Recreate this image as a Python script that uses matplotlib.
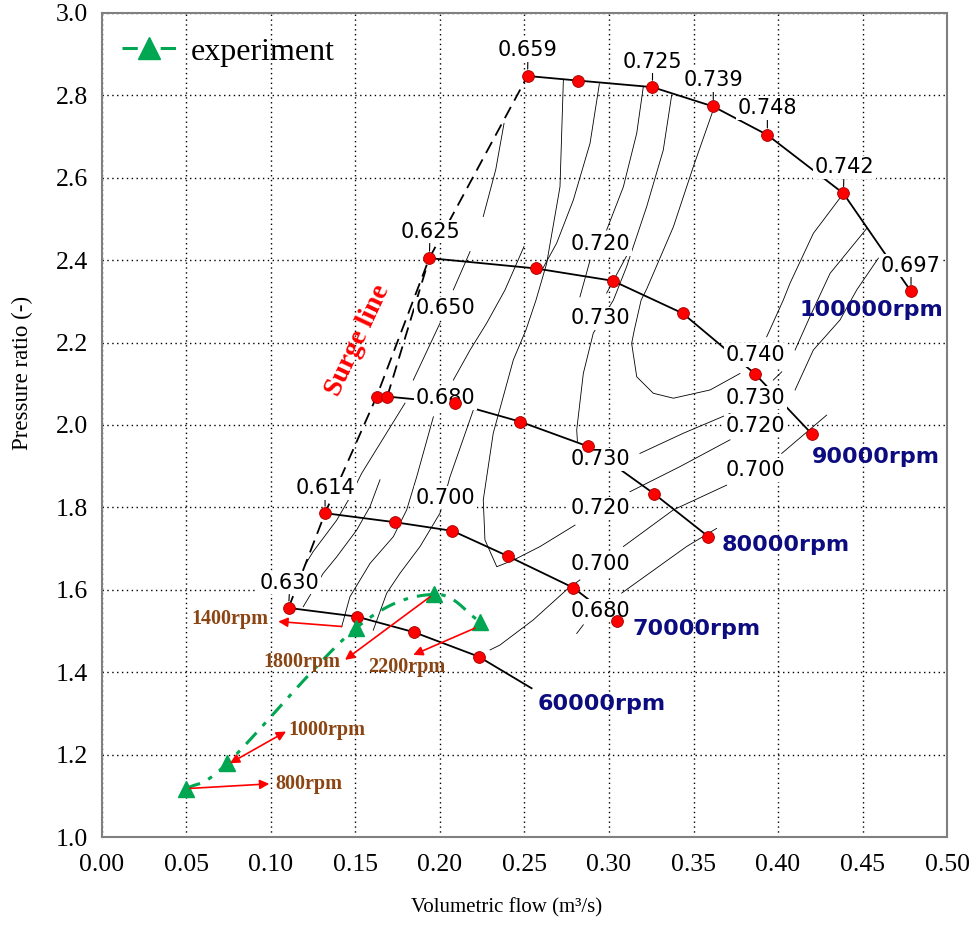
import numpy as np
import matplotlib
matplotlib.use("Agg")
import matplotlib.pyplot as plt
from matplotlib.lines import Line2D

# ---------------- speed lines: volumetric flow (m3/s) vs pressure ratio ----------------
q_100k = [0.2518, 0.2815, 0.3257, 0.3617, 0.3937, 0.4387, 0.4787]
pr_100k = [2.847, 2.836, 2.820, 2.773, 2.704, 2.562, 2.324]
q_90k = [0.1937, 0.2566, 0.3022, 0.3436, 0.3864, 0.4203]
pr_90k = [2.405, 2.380, 2.350, 2.271, 2.124, 1.977]
q_80k = [0.1625, 0.1688, 0.2087, 0.2475, 0.2876, 0.3267, 0.3588]
pr_80k = [2.069, 2.069, 2.053, 2.008, 1.948, 1.833, 1.729]
q_70k = [0.1320, 0.1734, 0.2074, 0.2400, 0.2789, 0.3045]
pr_70k = [1.786, 1.764, 1.743, 1.682, 1.605, 1.524]
q_60k = [0.1104, 0.1507, 0.1847, 0.2228, 0.2542]
pr_60k = [1.556, 1.535, 1.497, 1.438, 1.361]
n_pts_60k = 4  # measured points on the 60000 rpm line (last vertex is line end)

speed_names = ["100000rpm", "90000rpm", "80000rpm", "70000rpm", "60000rpm"]
speed_name_q = [0.4130, 0.4199, 0.3667, 0.3140, 0.2576]
speed_name_pr = [2.279, 1.923, 1.709, 1.505, 1.323]

# efficiency values written next to individual operating points
pt_eff_text = ["0.659", "0.725", "0.739", "0.748", "0.742", "0.697", "0.625", "0.614", "0.630"]
pt_eff_q = [0.2518, 0.3257, 0.3617, 0.3937, 0.4387, 0.4787, 0.1937, 0.1320, 0.1104]
pt_eff_pr = [2.847, 2.820, 2.773, 2.704, 2.562, 2.324, 2.405, 1.786, 1.556]
pt_eff_text_q = [0.2521, 0.3258, 0.3617, 0.3937, 0.4391, 0.4787, 0.1941, 0.1320, 0.1112]
pt_eff_text_pr = [2.910, 2.882, 2.837, 2.769, 2.625, 2.387, 2.469, 1.846, 1.617]

# surge line (through the left-most point of each speed line)
surge_q = [0.1104, 0.1320, 0.1625, 0.1937, 0.2518]
surge_pr = [1.556, 1.786, 2.069, 2.405, 2.847]
surge_b_q = [0.1688, 0.1937]
surge_b_pr = [2.069, 2.405]

# ---------------- iso-efficiency lines (flow, pressure ratio) ----------------
eff_a = [(0.2379, 2.732), (0.2330, 2.620), (0.2256, 2.506)]
eff_b = [(0.2178, 2.421), (0.2079, 2.328)]
eff_720 = [(0.2730, 2.837), (0.2710, 2.578), (0.2631, 2.392), (0.2568, 2.303),
           (0.2509, 2.231), (0.2434, 2.158), (0.2315, 1.980), (0.2256, 1.818),
           (0.2266, 1.721), (0.2336, 1.656), (0.2434, 1.672), (0.2592, 1.705),
           (0.2799, 1.757)]
eff_720_r = [(0.3124, 1.838), (0.3420, 1.899), (0.3716, 1.964)]
eff_c = [(0.2943, 2.828), (0.2888, 2.684), (0.2789, 2.546), (0.2690, 2.441), (0.2592, 2.368)]
eff_d = [(0.2828, 2.311), (0.2888, 2.400)]
eff_e = [(0.3203, 2.821), (0.3164, 2.708), (0.3085, 2.578), (0.2986, 2.473)]
eff_f = [(0.3134, 2.433), (0.2986, 2.320)]
eff_730 = [(0.3371, 2.801), (0.3321, 2.667), (0.3223, 2.530), (0.3104, 2.384),
           (0.3026, 2.303), (0.2907, 2.223), (0.2848, 2.125), (0.2809, 1.988),
           (0.2813, 1.960)]
eff_730_r = [(0.3183, 1.931), (0.3440, 1.980), (0.3716, 2.028)]
eff_740 = [(0.3617, 2.765), (0.3499, 2.627), (0.3381, 2.481), (0.3223, 2.330),
           (0.3190, 2.303), (0.3150, 2.231), (0.3134, 2.198), (0.3164, 2.117),
           (0.3262, 2.077), (0.3381, 2.065), (0.3598, 2.085), (0.3775, 2.125)]
eff_740_r = [(0.4387, 2.562), (0.4209, 2.465), (0.4071, 2.344), (0.4031, 2.303), (0.3933, 2.214)]
eff_g = [(0.4525, 2.477), (0.4308, 2.368), (0.4189, 2.263), (0.4101, 2.182)]
eff_h = [(0.4022, 2.129), (0.3972, 2.109)]
eff_i = [(0.4594, 2.405), (0.4466, 2.328), (0.4367, 2.255), (0.4209, 2.182), (0.4101, 2.085)]
eff_j = [(0.4022, 1.931), (0.4288, 2.024)]
eff_700 = [(0.3085, 1.705), (0.3381, 1.794), (0.3696, 1.854)]
eff_680 = [(0.3075, 1.592), (0.3459, 1.705), (0.3637, 1.749)]
eff_700_low = [(0.2296, 1.454), (0.2355, 1.466), (0.2552, 1.527), (0.2749, 1.600), (0.2828, 1.624)]
eff_680_low = [(0.2848, 1.515), (0.2809, 1.494)]
eff_k = [(0.1793, 2.053), (0.1537, 1.883), (0.1458, 1.818), (0.1389, 1.769), (0.1250, 1.693), (0.1201, 1.660)]
eff_l = [(0.1961, 2.020), (0.1862, 1.874), (0.1803, 1.794), (0.1724, 1.729), (0.1586, 1.664),
         (0.1467, 1.583), (0.1418, 1.510)]
eff_m = [(0.2197, 2.036), (0.2059, 1.874), (0.2000, 1.786), (0.1882, 1.705), (0.1763, 1.640),
         (0.1685, 1.592), (0.1605, 1.502)]
eff_n = [(0.1645, 1.867), (0.1586, 1.802), (0.1507, 1.745), (0.1389, 1.680), (0.1309, 1.640),
         (0.1191, 1.559)]
eff_o = [(0.2000, 2.247), (0.1842, 2.109)]
eff_p = [(0.2497, 2.433), (0.2385, 2.328), (0.2276, 2.247), (0.2178, 2.182), (0.2079, 2.109)]

eff_lines = [eff_a, eff_b, eff_720, eff_720_r, eff_c, eff_d, eff_e, eff_f, eff_730, eff_730_r,
             eff_740, eff_740_r, eff_g, eff_h, eff_i, eff_j, eff_700, eff_680, eff_700_low,
             eff_680_low, eff_k, eff_l, eff_m, eff_n, eff_o, eff_p]

eff_text = ["0.720", "0.730", "0.650", "0.680", "0.740", "0.730", "0.720", "0.730",
            "0.700", "0.720", "0.700", "0.700", "0.680"]
eff_text_q = [0.2951, 0.2951, 0.2030, 0.2030, 0.3864, 0.3864, 0.3864, 0.2951,
              0.3864, 0.2951, 0.2030, 0.2947, 0.2947]
eff_text_pr = [2.439, 2.259, 2.283, 2.065, 2.170, 2.066, 1.998, 1.917,
               1.891, 1.798, 1.824, 1.663, 1.549]

# ---------------- experiment ----------------
exp_q = [0.0497, 0.0742, 0.1503, 0.1966, 0.2237]
exp_pr = [1.116, 1.179, 1.507, 1.589, 1.523]
exp_rpm = ["800rpm", "1000rpm", "1400rpm", "1800rpm", "2200rpm"]
arrow_tail = [(0.0521, 1.118), (0.0757, 1.179), (0.1418, 1.511), (0.1941, 1.583), (0.2207, 1.507)]
arrow_head = [(0.0990, 1.129), (0.1089, 1.256), (0.1043, 1.523), (0.1438, 1.430), (0.1842, 1.442)]
arrow_both = [False, True, False, False, False]
rpm_text_pos = [(0.1024, 1.129), (0.1101, 1.260), (0.0982, 1.529), (0.1408, 1.425), (0.1574, 1.413)]
rpm_text_ha = ["left", "left", "right", "right", "left"]

# ---------------- figure ----------------
SERIF = ["Liberation Serif", "DejaVu Serif"]
SANS = ["DejaVu Sans"]
GREEN = "#00a651"
BROWN = "#8b4513"
NAVY = "#0c0c80"

fig = plt.figure(figsize=(9.73, 9.26), dpi=100)
ax = fig.add_axes([0.1048, 0.0961, 0.8685, 0.8899])
ax.set_xlim(0, 0.5)
ax.set_ylim(1.0, 3.0)
xt = np.round(np.arange(0, 0.501, 0.05), 2)
yt = np.round(np.arange(1.0, 3.001, 0.2), 1)
ax.set_xticks(xt)
ax.set_xticklabels([f"{v:.2f}" for v in xt], fontfamily=SERIF, fontsize=18.5)
ax.set_yticks(yt)
ax.set_yticklabels([f"{v:.1f}" for v in yt], fontfamily=SERIF, fontsize=18.5)
ax.tick_params(axis="x", length=0, pad=12)
ax.tick_params(axis="y", length=0, pad=10)
ax.grid(True, color="black", linestyle=(0, (1, 2.5)), linewidth=1.0)
ax.set_axisbelow(True)
for s in ax.spines.values():
    s.set_color("#808080")
    s.set_linewidth(1.5)

fig.text(0.521, 0.0194, "Volumetric flow (m\u00b3/s)", ha="center", va="center",
         fontfamily=SERIF, fontsize=15)
fig.text(0.0226, 0.597, "Pressure ratio (-)", ha="center", va="center", rotation=90,
         fontfamily=SERIF, fontsize=16.5)

# iso-efficiency lines
for line in eff_lines:
    xs, ys = zip(*line)
    ax.plot(xs, ys, color="black", linewidth=0.6, zorder=2)

# surge line
ax.plot(surge_q, surge_pr, color="black", linewidth=1.3, linestyle=(0, (7, 4)), zorder=3)
ax.plot(surge_b_q, surge_b_pr, color="black", linewidth=1.3, linestyle=(0, (7, 4)), zorder=3)
ax.text(0.1515, 2.205, "Surge line", rotation=65, color="red", fontweight="bold",
        fontfamily=SERIF, fontsize=20, ha="center", va="center", zorder=6)

# speed lines
dot_kw = dict(marker="o", markersize=8.5, markerfacecolor="#ff0000",
              markeredgecolor="#a00000", markeredgewidth=0.6)
for q, pr in [(q_100k, pr_100k), (q_90k, pr_90k), (q_80k, pr_80k), (q_70k, pr_70k)]:
    ax.plot(q, pr, color="black", linewidth=1.3, zorder=3)
    ax.plot(q, pr, linestyle="none", zorder=7, **dot_kw)
ax.plot(q_60k, pr_60k, color="black", linewidth=1.3, zorder=3)
ax.plot(q_60k[:n_pts_60k], pr_60k[:n_pts_60k], linestyle="none", zorder=7, **dot_kw)

box = dict(boxstyle="square,pad=0.08", facecolor="white", edgecolor="none")

# efficiency labels on points
for t, q, pr, tq, tpr in zip(pt_eff_text, pt_eff_q, pt_eff_pr, pt_eff_text_q, pt_eff_text_pr):
    ax.annotate(t, xy=(q, pr), xytext=(tq, tpr), ha="center", va="center",
                fontfamily=SANS, fontsize=15, bbox=box, zorder=5,
                arrowprops=dict(arrowstyle="-", color="black", linewidth=0.8,
                                shrinkA=0, shrinkB=5))

# iso-efficiency labels
for t, q, pr in zip(eff_text, eff_text_q, eff_text_pr):
    ax.text(q, pr, t, ha="center", va="center", fontfamily=SANS, fontsize=15,
            bbox=box, zorder=5)

# speed names
for t, q, pr in zip(speed_names, speed_name_q, speed_name_pr):
    ax.text(q, pr, t, ha="left", va="center", fontfamily=SANS, fontsize=16,
            fontweight="bold", color=NAVY, zorder=6)


# experiment: smoothed line through the measured points
def catmull_rom(xs, ys, n=30):
    px = np.asarray(xs) / 0.5
    py = (np.asarray(ys) - 1.0) / 2.0
    P = np.column_stack([px, py])
    P = np.vstack([2 * P[0] - P[1], P, 2 * P[-1] - P[-2]])
    out = []
    for i in range(1, len(P) - 2):
        p0, p1, p2, p3 = P[i - 1], P[i], P[i + 1], P[i + 2]
        t = np.linspace(0, 1, n)[:, None]
        seg = 0.5 * ((2 * p1) + (-p0 + p2) * t + (2 * p0 - 5 * p1 + 4 * p2 - p3) * t ** 2
                     + (-p0 + 3 * p1 - 3 * p2 + p3) * t ** 3)
        out.append(seg)
    out = np.vstack(out)
    return out[:, 0] * 0.5, out[:, 1] * 2.0 + 1.0


sx, sy = catmull_rom(exp_q, exp_pr)
exp_style = dict(color=GREEN, linewidth=2.2, linestyle=(0, (5, 3, 1.5, 3)))
ax.plot(sx, sy, zorder=8, **exp_style)
ax.plot(exp_q, exp_pr, linestyle="none", marker="^", markersize=12, color=GREEN, zorder=9)

for (tx, ty), (hx, hy), both in zip(arrow_tail, arrow_head, arrow_both):
    ax.annotate("", xy=(hx, hy), xytext=(tx, ty), zorder=9,
                arrowprops=dict(arrowstyle="<|-|>" if both else "-|>", color="red",
                                linewidth=1.2, mutation_scale=14, shrinkA=0, shrinkB=0))
for t, (x, y), ha in zip(exp_rpm, rpm_text_pos, rpm_text_ha):
    ax.text(x, y, t, ha=ha, va="center", fontfamily=SERIF, fontsize=14.5,
            fontweight="bold", color=BROWN, zorder=9)

handle = Line2D([], [], marker="^", markersize=16, **exp_style)
ax.legend([handle], ["experiment"], loc="center left", bbox_to_anchor=(0.0237, 0.9527),
          frameon=False, borderpad=0, borderaxespad=0, handlelength=1.7,
          handletextpad=0.45, prop=dict(family=SERIF, size=23))

fig.savefig("out.png", dpi=100)
